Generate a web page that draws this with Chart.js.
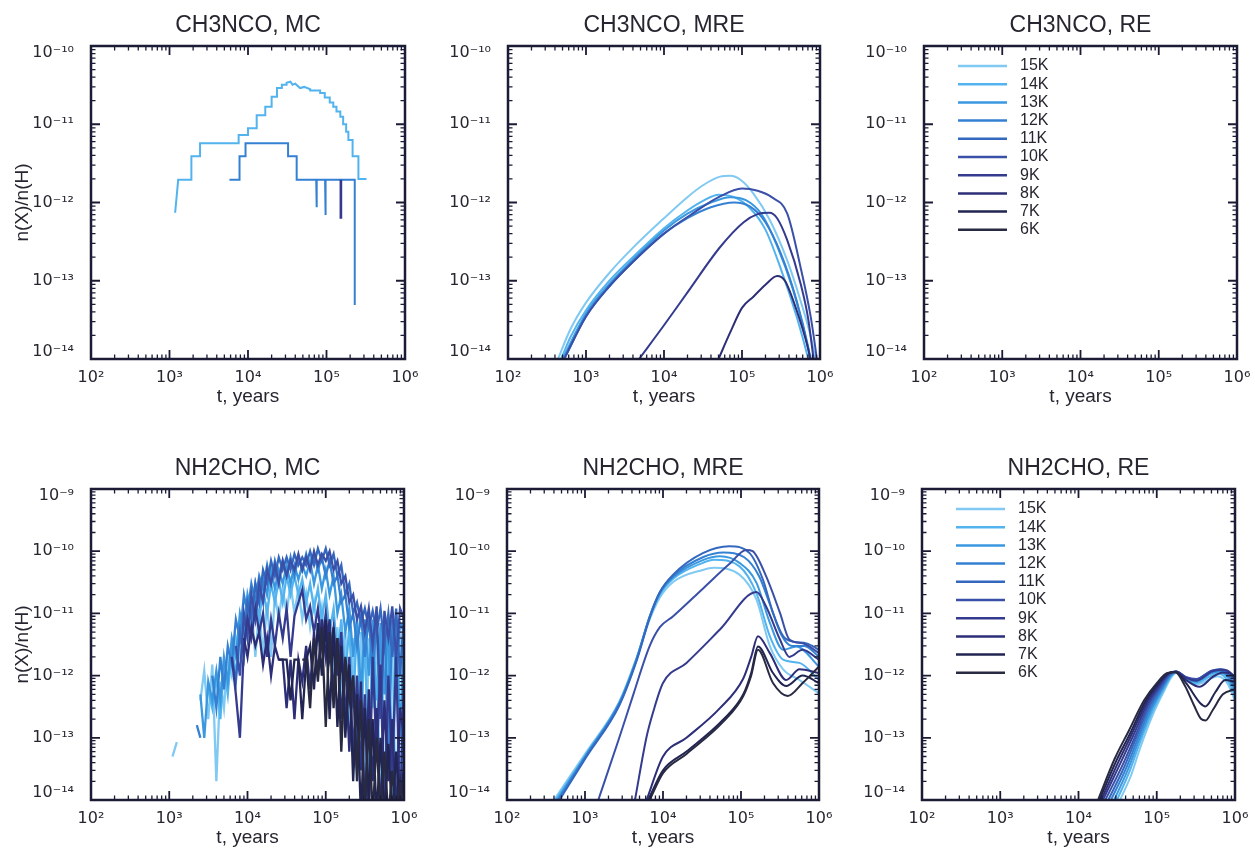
<!DOCTYPE html>
<html><head><meta charset="utf-8">
<script src="https://cdn.jsdelivr.net/npm/chart.js@4.4.1/dist/chart.umd.min.js"></script>
<style>
html,body{margin:0;padding:0;background:#fff;width:1255px;height:855px;overflow:hidden;position:relative}
canvas{position:absolute}
</style></head><body>
<canvas id="c1"></canvas><canvas id="c2"></canvas><canvas id="c3"></canvas>
<canvas id="c4"></canvas><canvas id="c5"></canvas><canvas id="c6"></canvas>
<script>
// ---------- tick labels ----------
const xTicks = [1e2, 1e3, 1e4, 1e5, 1e6];
const xTickLabels = ['10²', '10³', '10⁴', '10⁵', '10⁶'];
const yTicksTop = [1e-14, 1e-13, 1e-12, 1e-11, 1e-10];
const yTickLabelsTop = ['10⁻¹⁴', '10⁻¹³', '10⁻¹²', '10⁻¹¹', '10⁻¹⁰'];
const yTicksBottom = [1e-14, 1e-13, 1e-12, 1e-11, 1e-10, 1e-9];
const yTickLabelsBottom = ['10⁻¹⁴', '10⁻¹³', '10⁻¹²', '10⁻¹¹', '10⁻¹⁰', '10⁻⁹'];

// ---------- series categories ----------
const tempLabels = ['15K', '14K', '13K', '12K', '11K', '10K', '9K', '8K', '7K', '6K'];
const tempColors = ['#7fc9f2', '#52b3ee', '#3a98e0', '#3480d2', '#3468bf', '#3a50a8', '#343b8f', '#2d2e78', '#222452', '#282a42'];

// ---------- CH3NCO, MC  [t, n(X)/n(H)] ----------
const ch3ncoMC_14K = [[1180,7.4e-13],[1290,1.95e-12],[1900,1.95e-12],[1900,3.9e-12],[2450,3.9e-12],[2450,5.7e-12],[7600,5.7e-12],[7600,7.3e-12],[10000,7.3e-12],[10000,8.9e-12],[12900,8.9e-12],[12900,1.3e-11],[16600,1.3e-11],[16600,1.67e-11],[20000,1.67e-11],[20000,2.25e-11],[23400,2.25e-11],[23400,2.9e-11],[27000,2.9e-11],[27000,3.2e-11],[31000,3.2e-11],[31000,3.4e-11],[34700,3.5e-11],[37000,3.2e-11],[40000,3.3e-11],[46000,2.9e-11],[52000,3e-11],[62000,2.8e-11],[62000,2.7e-11],[83000,2.7e-11],[83000,2.5e-11],[95000,2.5e-11],[95000,2.2e-11],[110000,2.2e-11],[110000,1.9e-11],[122000,1.9e-11],[122000,1.67e-11],[134000,1.67e-11],[134000,1.45e-11],[150000,1.45e-11],[150000,1.25e-11],[163000,1.25e-11],[163000,1e-11],[178000,1e-11],[178000,8e-12],[190000,8e-12],[190000,6.3e-12],[215000,6.3e-12],[215000,3.9e-12],[255000,3.9e-12],[255000,2e-12],[323000,2e-12]];
const ch3ncoMC_12K = [[5800,1.95e-12],[7800,1.95e-12],[7800,3.9e-12],[9300,3.9e-12],[9300,5.7e-12],[32400,5.7e-12],[32400,3.9e-12],[41700,3.9e-12],[41700,1.95e-12],[74000,1.95e-12],[74000,8.7e-13],[75500,8.7e-13],[75500,1.95e-12],[96000,1.95e-12],[96000,6.9e-13],[98000,6.9e-13],[98000,1.95e-12],[229000,1.95e-12],[229000,4.9e-14]];
const ch3ncoMC_9K = [[151000,1.95e-12],[151000,6.4e-13],[154000,6.4e-13],[154000,1.95e-12]];

// ---------- CH3NCO, MRE ----------
const ch3ncoMRE_15K = [[437,1e-14],[631,2.4e-14],[1000,5.25e-14],[1995,1.26e-13],[3981,2.63e-13],[10000,6.3e-13],[19950,1.17e-12],[31620,1.66e-12],[52480,2.14e-12],[70800,2.19e-12],[95500,1.95e-12],[141000,1.29e-12],[229000,5.9e-13],[380000,1.82e-13],[562000,5.6e-14],[759000,1.95e-14],[871000,1e-14],[1000000,4e-15]];
const ch3ncoMRE_14K = [[479,1e-14],[631,1.9e-14],[1000,4.2e-14],[1995,1e-13],[3981,2e-13],[10000,4.7e-13],[19950,7.9e-13],[31620,1.05e-12],[50120,1.26e-12],[79430,1.17e-12],[125900,8.5e-13],[199500,4.5e-13],[316200,1.4e-13],[501200,3.5e-14],[707900,1e-14],[831800,5e-15]];
const ch3ncoMRE_13K = [[501,1e-14],[1000,3.8e-14],[1995,9.1e-14],[3981,1.86e-13],[10000,4.4e-13],[19950,7.2e-13],[39810,1e-12],[70790,1.17e-12],[112200,1.07e-12],[177800,7.1e-13],[281800,2.8e-13],[446700,7.9e-14],[631000,2.2e-14],[794300,7.9e-15]];
const ch3ncoMRE_12K = [[525,1e-14],[1000,3.5e-14],[1995,8.5e-14],[3981,1.74e-13],[10000,4e-13],[19950,6.3e-13],[39810,8.7e-13],[79430,1e-12],[125900,8.9e-13],[199500,5.6e-13],[316200,2.2e-13],[501200,5.6e-14],[707900,1.4e-14],[851100,5e-15]];
const ch3ncoMRE_10K = [[525,1e-14],[1000,3.5e-14],[1995,8.5e-14],[3981,1.74e-13],[10000,4e-13],[25120,7.6e-13],[50120,1.17e-12],[100000,1.51e-12],[158500,1.41e-12],[239900,1.17e-12],[380200,7.2e-13],[562300,1.5e-13],[758600,3.5e-14],[912000,1e-14],[1000000,5e-15]];
const ch3ncoMRE_9K = [[4790,1e-14],[10000,2.7e-14],[20000,7.1e-14],[52500,2.7e-13],[105000,5.6e-13],[158000,7.1e-13],[224000,7.4e-13],[282000,6.3e-13],[380000,3.3e-13],[562000,9.3e-14],[708000,3.2e-14],[851000,7.9e-15]];
const ch3ncoMRE_8K = [[50000,1e-14],[70800,2.2e-14],[100000,4.5e-14],[141000,6.3e-14],[200000,8.9e-14],[282000,1.15e-13],[355000,1e-13],[501000,4.2e-14],[692000,1.45e-14],[832000,6.3e-15]];

// ---------- NH2CHO, MC (shared time grid) ----------
const nh2choMC_t = [1100,1250,1400,1600,1800,2000,2250,2500,2800,3150,
 3550,4000,4500,5000,5600,6300,7100,8000,9000,10000,
 11200,12600,14100,15800,17800,20000,22400,25100,28200,31600,
 35500,39800,44700,50100,56200,63100,70800,79400,89100,100000,
 112000,126000,141000,158000,178000,200000,224000,251000,282000,316000,
 355000,398000,447000,501000,562000,631000,708000,794000,891000,1000000];
const nh2choMC_15K = [5e-14,8.5e-14,null,null,null,null,null,4e-13,1.2e-12,2e-13,
 1.5e-12,2e-14,8e-13,3e-13,2e-12,1e-12,4e-12,2e-12,8e-12,4e-12,
 1.5e-11,2e-12,1.2e-11,2e-12,1.5e-11,2e-12,2e-11,8e-12,2.5e-11,1e-11,
 3e-11,1e-11,2.5e-11,8e-12,2e-11,6e-12,1.5e-11,4e-12,1.2e-11,2e-12,
 8e-12,1e-12,6e-12,4e-13,5e-12,1e-13,4e-12,2e-14,5e-12,5e-15,
 4e-12,3e-13,5e-12,5e-15,4e-12,1e-13,3e-12,5e-15,4e-12,2e-12];
const nh2choMC_14K = [null,null,null,null,null,null,null,null,null,6e-13,
 3e-13,1e-12,2e-13,1.5e-12,5e-13,3e-12,1e-12,6e-12,3e-12,1.5e-11,
 5e-12,2e-11,8e-12,2.5e-11,1e-11,3e-11,1.5e-11,3.5e-11,1.5e-11,4e-11,
 2e-11,4e-11,2e-11,3.5e-11,1.5e-11,3e-11,1.2e-11,2.5e-11,8e-12,2e-11,
 5e-12,1.2e-11,2e-12,8e-12,1e-12,6e-12,3e-13,7e-12,1e-13,6e-12,
 1e-14,7e-12,4e-13,6e-12,5e-15,7e-12,3e-14,6e-12,5e-15,5e-12];
const nh2choMC_13K = [null,null,null,null,null,null,null,5e-13,1e-13,8e-13,
 4e-13,1.2e-12,4e-13,2e-12,8e-13,4e-12,2e-12,1e-11,5e-12,2e-11,
 1e-11,3e-11,1.5e-11,4e-11,2e-11,5e-11,2.5e-11,5e-11,3e-11,6e-11,
 3e-11,6e-11,3.5e-11,6e-11,4e-11,7e-11,3e-11,6e-11,2.5e-11,5e-11,
 2e-11,4e-11,1e-11,2e-11,5e-12,1.2e-11,2e-12,8e-12,5e-13,8e-12,
 1e-12,8e-12,5e-14,7e-12,5e-13,8e-12,5e-15,7e-12,1e-13,6e-12];
const nh2choMC_12K = [null,null,null,null,null,null,1.6e-13,1e-13,null,null,
 1e-12,3e-13,2e-12,6e-13,3e-12,1.5e-12,8e-12,4e-12,2e-11,1e-11,
 3e-11,1.5e-11,4e-11,2.5e-11,6e-11,3e-11,7e-11,4e-11,7e-11,4e-11,
 8e-11,4e-11,8e-11,5e-11,9e-11,5e-11,9e-11,5e-11,8e-11,4e-11,
 7e-11,3e-11,4e-11,1.5e-11,2e-11,6e-12,1e-11,3e-12,9e-12,2e-12,
 9e-12,1e-12,8e-12,2e-13,9e-12,5e-14,8e-12,1e-12,7e-12,5e-12];
const nh2choMC_11K = [null,null,null,null,null,null,null,null,null,null,
 null,null,null,null,null,2e-12,8e-13,5e-12,2e-12,1.5e-11,
 8e-12,3e-11,1.5e-11,5e-11,3e-11,7e-11,4e-11,8e-11,5e-11,8e-11,
 5e-11,9e-11,6e-11,8e-11,6e-11,1e-10,6e-11,1.1e-10,7e-11,1.1e-10,
 6e-11,9e-11,4e-11,6e-11,2e-11,3e-11,1e-11,1.5e-11,7e-12,1.2e-11,
 6e-12,1.1e-11,5e-12,1.2e-11,3e-12,1e-11,2e-12,1.2e-11,1e-12,1e-11];
const nh2choMC_10K = [null,null,null,null,null,null,null,null,null,null,
 null,null,null,null,null,null,3e-12,1e-12,1e-11,4e-12,
 2e-11,8e-12,3e-11,1.5e-11,5e-11,3e-11,6e-11,3e-11,7e-11,4e-11,
 7e-11,5e-11,9e-11,5e-11,8e-11,5e-11,1e-10,6e-11,9e-11,7e-11,
 1e-10,5e-11,7e-11,3e-11,4e-11,1.5e-11,2e-11,8e-12,1.3e-11,5e-12,
 1.2e-11,3e-12,1.3e-11,2e-13,1.1e-11,4e-12,1.3e-11,2e-12,1.2e-11,8e-12];
const nh2choMC_9K = [null,null,null,null,null,null,null,null,null,null,
 null,null,null,null,null,2e-12,5e-13,1e-13,3e-12,8e-12,
 4e-12,1.2e-11,5e-12,1e-11,2e-12,8e-12,3e-12,1e-11,4e-12,1.2e-11,
 2e-12,9e-12,1.5e-11,2.4e-11,8e-12,1.3e-11,5e-12,1.2e-11,3e-12,1e-11,
 2e-12,6e-12,1e-12,5e-12,2e-13,2e-12,5e-14,1e-12,3e-14,5e-13,
 5e-15,2e-12,5e-14,1.5e-12,5e-15,1e-12,3e-14,2e-12,5e-15,1e-12];
const nh2choMC_8K = [null,null,null,null,null,null,null,null,null,null,
 null,null,null,null,null,null,null,null,4e-12,2e-12,
 6e-12,3e-12,5e-12,1.5e-12,4e-12,1e-12,3e-12,1.8e-12,1.8e-12,3e-13,
 1.8e-12,2e-13,1.8e-12,8e-13,3e-12,6e-13,5e-12,1e-12,8e-12,2e-12,
 8e-12,5e-13,4e-12,2e-13,1.8e-12,6e-14,1e-12,3e-14,8e-13,5e-15,
 6e-13,2e-14,3e-13,5e-15,4e-13,2e-14,2e-13,5e-15,3e-13,1e-13];
const nh2choMC_7K = [null,null,null,null,null,null,null,null,null,null,
 null,null,null,null,null,null,null,null,null,null,
 null,null,null,null,null,null,null,1.8e-12,1.8e-12,1.8e-12,
 4e-13,1.8e-12,1.8e-12,2e-13,1.8e-12,3e-12,6e-13,7e-12,1e-12,8e-12,
 2e-13,6e-12,1.5e-13,3e-12,1e-13,1.5e-12,2e-14,5e-13,5e-15,3e-13,
 1e-14,2e-13,5e-15,1e-13,5e-15,8e-14,5e-15,6e-14,5e-15,4e-14];
const nh2choMC_6K = [null,null,null,null,null,null,null,null,null,null,
 null,null,null,null,null,null,null,null,null,null,
 null,null,null,null,null,null,null,null,null,null,
 null,null,null,1.8e-12,1.8e-12,3e-13,4e-12,8e-13,6e-12,1.5e-13,
 5e-12,3e-13,4e-12,6e-14,2e-12,4e-13,1e-12,2e-14,4e-13,5e-15,
 2e-13,5e-15,1e-13,5e-15,6e-14,5e-15,3e-14,5e-15,2e-14,5e-15];

// ---------- NH2CHO, MRE ----------
const nh2choMRE_15K = [[400,1e-14],[1050,6e-14],[2750,3.8e-13],[4570,1.9e-12],[6760,8e-12],[9120,1.8e-11],[13500,3.2e-11],[32400,5e-11],[44700,5.4e-11],[95500,4.2e-11],[158000,1.66e-11],[234000,3e-12],[347000,1.26e-12],[562000,8.5e-13],[1000000,5.2e-13]];
const nh2choMRE_14K = [[420,1e-14],[1050,5.6e-14],[2750,3.7e-13],[4570,1.9e-12],[6760,8.7e-12],[9120,2e-11],[13500,3.6e-11],[32400,6.5e-11],[44700,7.3e-11],[95500,5.7e-11],[158000,2.1e-11],[234000,4.3e-12],[347000,1.8e-12],[562000,1.6e-12],[1000000,8.5e-13]];
const nh2choMRE_13K = [[440,1e-14],[1050,5.5e-14],[2750,3.6e-13],[4570,1.8e-12],[6760,8.9e-12],[9120,2.1e-11],[13500,3.8e-11],[32400,7.2e-11],[53700,8.3e-11],[95500,6.5e-11],[158000,3.1e-11],[234000,7.1e-12],[347000,2.6e-12],[513000,2.95e-12],[1000000,1.4e-12]];
const nh2choMRE_12K = [[450,1e-14],[1050,5.3e-14],[2750,3.5e-13],[4570,1.8e-12],[6760,9e-12],[9120,2.2e-11],[13500,4e-11],[32400,8e-11],[60000,9.5e-11],[110000,8e-11],[170000,4e-11],[240000,1.3e-11],[330000,4.5e-12],[450000,3e-12],[650000,3e-12],[1000000,2e-12]];
const nh2choMRE_11K = [[470,1e-14],[1050,5e-14],[2750,3.3e-13],[4570,1.7e-12],[6760,8.5e-12],[9120,2.2e-11],[13500,4.2e-11],[32400,9.3e-11],[70800,1.2e-10],[129000,9.3e-11],[191000,3.5e-11],[257000,1.02e-11],[347000,4.3e-12],[468000,3.5e-12],[692000,3.3e-12],[1000000,2.6e-12]];
const nh2choMRE_10K = [[1480,1e-14],[2750,1e-13],[4170,5e-13],[6760,3e-12],[9120,6e-12],[13500,9e-12],[32400,2.5e-11],[70800,6.2e-11],[117000,1.05e-10],[141000,1e-10],[209000,4e-11],[316000,1.02e-11],[417000,3.8e-12],[617000,3.3e-12],[1000000,2.3e-12]];
const nh2choMRE_9K = [[4370,1e-14],[6170,1.05e-13],[7410,2.5e-13],[10000,7.6e-13],[20000,1.6e-12],[53700,5.5e-12],[158000,2.2e-11],[209000,1.3e-11],[316000,3.8e-12],[417000,2e-12],[617000,2.6e-12],[1000000,1.8e-12]];
const nh2choMRE_8K = [[6170,1e-14],[10000,5e-14],[20000,1e-13],[53700,3e-13],[107000,9e-13],[135000,2e-12],[165000,4.3e-12],[234000,2.3e-12],[380000,8.5e-13],[562000,1.26e-12],[1000000,1.1e-12]];
const nh2choMRE_7K = [[6460,1e-14],[10000,3e-14],[20000,6e-14],[58900,1.95e-13],[107000,5e-13],[135000,1.1e-12],[165000,2.95e-12],[257000,1.1e-12],[380000,6.8e-13],[617000,1e-12],[1000000,7.6e-13]];
const nh2choMRE_6K = [[6760,1e-14],[10000,2.7e-14],[20000,5.5e-14],[58900,1.8e-13],[107000,4.7e-13],[135000,1e-12],[165000,2.6e-12],[257000,7.6e-13],[398000,4.7e-13],[617000,7.6e-13],[1000000,1.4e-12]];

// ---------- NH2CHO, RE ----------
const nh2choRE_15K = [[33900,1e-14],[47000,2.5e-14],[61700,7e-14],[87000,2.2e-13],[120000,5.2e-13],[155000,9.5e-13],[182000,1.12e-12],[240000,8.3e-13],[320000,7.2e-13],[450000,8.5e-13],[600000,9.8e-13],[800000,7.5e-13],[1000000,4e-13]];
const nh2choRE_14K = [[31000,1e-14],[44000,2.7e-14],[60000,8e-14],[85000,2.4e-13],[118000,5.5e-13],[153000,9.8e-13],[180000,1.13e-12],[240000,8.6e-13],[320000,7.6e-13],[460000,9.5e-13],[610000,1.08e-12],[800000,8.5e-13],[1000000,4.8e-13]];
const nh2choRE_13K = [[28500,1e-14],[42000,2.9e-14],[58000,8.5e-14],[83000,2.6e-13],[116000,5.8e-13],[151000,1e-12],[179000,1.14e-12],[240000,8.9e-13],[320000,8e-13],[470000,1.05e-12],[620000,1.15e-12],[800000,9.5e-13],[1000000,5.6e-13]];
const nh2choRE_12K = [[26000,1e-14],[40000,3.1e-14],[56000,9e-14],[81000,2.8e-13],[114000,6e-13],[149000,1.02e-12],[178000,1.15e-12],[240000,9.1e-13],[320000,8.4e-13],[480000,1.12e-12],[630000,1.2e-12],[800000,1.05e-12],[1000000,6.5e-13]];
const nh2choRE_11K = [[24000,1e-14],[38000,3.3e-14],[54000,9.6e-14],[79000,3e-13],[112000,6.3e-13],[147000,1.04e-12],[177000,1.16e-12],[240000,9.3e-13],[320000,8.7e-13],[490000,1.18e-12],[640000,1.25e-12],[800000,1.15e-12],[1000000,8e-13]];
const nh2choRE_10K = [[22000,1e-14],[36000,3.5e-14],[52000,1e-13],[77000,3.2e-13],[110000,6.6e-13],[145000,1.06e-12],[176000,1.16e-12],[240000,9.4e-13],[320000,8.8e-13],[500000,1.2e-12],[650000,1.27e-12],[800000,1.2e-12],[1000000,9e-13]];
const nh2choRE_9K = [[20500,1e-14],[34000,3.8e-14],[50000,1.08e-13],[75000,3.4e-13],[108000,6.9e-13],[143000,1.07e-12],[175000,1.16e-12],[240000,9.2e-13],[320000,8.3e-13],[510000,1.17e-12],[660000,1.24e-12],[820000,1.18e-12],[1000000,9.5e-13]];
const nh2choRE_8K = [[19500,1e-14],[32000,4e-14],[48000,1.15e-13],[73000,3.6e-13],[106000,7.2e-13],[141000,1.08e-12],[174000,1.15e-12],[240000,8.4e-13],[350000,6.6e-13],[520000,9.5e-13],[700000,1.12e-12],[850000,1.1e-12],[1000000,9.5e-13]];
const nh2choRE_7K = [[18500,1e-14],[30500,4.3e-14],[46000,1.2e-13],[71000,3.8e-13],[104000,7.5e-13],[139000,1.09e-12],[173000,1.14e-12],[240000,7.4e-13],[360000,3.6e-13],[420000,3.2e-13],[560000,5.4e-13],[750000,8.5e-13],[1000000,8e-13]];
const nh2choRE_6K = [[17800,1e-14],[29000,4.6e-14],[44000,1.3e-13],[69000,4e-13],[102000,7.8e-13],[137000,1.1e-12],[172000,1.13e-12],[230000,6.8e-13],[300000,3.3e-13],[370000,2e-13],[420000,1.9e-13],[520000,2.8e-13],[700000,5e-13],[1000000,6e-13]];

// ---------- styling / helpers ----------
const FONT = "'Liberation Sans', Arial, Helvetica, sans-serif";
const TICKFONT = "'DejaVu Sans', 'Liberation Sans', sans-serif";
const INK = '#262630';
const FRAME = '#1b1b36';

function colorOf(label){ return tempColors[tempLabels.indexOf(label)]; }
function pairs(arr){ return arr.map(p => ({x: p[0], y: p[1]})); }
function series(label, data, extra){
  const c = colorOf(label);
  return Object.assign({label, data, borderColor: c, backgroundColor: c, borderWidth: 2,
    pointRadius: 0, pointHoverRadius: 0, fill: false, tension: 0, spanGaps: false,
    order: 10 - tempLabels.indexOf(label)}, extra || {});
}
const smooth = {cubicInterpolationMode: 'monotone'};

// end labels of the y axis sit just inside the frame (as in the original figure)
function yLabel(labels){
  return (v, i) => i === 0 ? [labels[i], ''] : (i === labels.length - 1 ? ['', labels[i]] : labels[i]);
}

const framePlugin = {
  id: 'frameTicks',
  afterDatasetsDraw(chart){
    const {ctx, chartArea: a, scales} = chart;
    ctx.save();
    ctx.strokeStyle = FRAME;
    const marks = (scale, horiz) => {
      const lo = Math.floor(Math.log10(scale.min) + 1e-9), hi = Math.round(Math.log10(scale.max));
      for (let e = lo; e <= hi; e++) for (let k = 1; k <= 9; k++) {
        const v = k * Math.pow(10, e);
        if (v < scale.min * 0.999 || v > scale.max * 1.001) continue;
        const p = scale.getPixelForValue(v);
        const len = k === 1 ? 9 : 4.5;
        ctx.lineWidth = k === 1 ? 1.8 : 1.3;
        ctx.beginPath();
        if (horiz) { ctx.moveTo(p, a.bottom); ctx.lineTo(p, a.bottom - len); ctx.moveTo(p, a.top); ctx.lineTo(p, a.top + len); }
        else { ctx.moveTo(a.left, p); ctx.lineTo(a.left + len, p); ctx.moveTo(a.right, p); ctx.lineTo(a.right - len, p); }
        ctx.stroke();
      }
    };
    marks(scales.x, true); marks(scales.y, false);
    ctx.lineWidth = 2.5;
    ctx.strokeRect(a.left, a.top, a.right - a.left, a.bottom - a.top);
    ctx.restore();
  }
};
const legendPlugin = {
  id: 'tempLegend',
  afterDraw(chart, args, opts){
    if (!opts || !opts.show) return;
    const {ctx, chartArea: a} = chart;
    ctx.save();
    ctx.font = '16px ' + FONT; ctx.textBaseline = 'middle'; ctx.textAlign = 'left';
    chart.data.datasets.forEach((ds, i) => {
      const y = a.top + 20 + i * 18.2;
      ctx.strokeStyle = ds.borderColor; ctx.lineWidth = 2.5;
      ctx.beginPath(); ctx.moveTo(a.left + 34, y); ctx.lineTo(a.left + 83, y); ctx.stroke();
      ctx.fillStyle = INK; ctx.fillText(ds.label, a.left + 96, y);
    });
    ctx.restore();
  }
};

function makePanel(id, box, title, yTicks, yLabels, datasets, flags){
  const cv = document.getElementById(id);
  cv.width = box.w + 90 + 25; cv.height = box.h + 46 + 60;
  cv.style.left = (box.l - 90) + 'px'; cv.style.top = (box.t - 46) + 'px';
  return new Chart(cv, {
    type: 'line',
    data: {datasets},
    plugins: [framePlugin, legendPlugin],
    options: {
      responsive: false, animation: false, devicePixelRatio: 1, events: [],
      layout: {padding: {left: 0, right: 25, top: 0, bottom: 0}},
      plugins: {
        legend: {display: false}, tooltip: {enabled: false},
        title: {display: true, text: title, fullSize: false, color: INK,
                font: {family: FONT, size: 23, weight: 'normal', lineHeight: 1.2}, padding: {top: 12, bottom: 6.4}},
        tempLegend: {show: !!flags.legend}
      },
      scales: {
        x: {type: 'logarithmic', min: xTicks[0], max: xTicks[xTicks.length - 1],
            grid: {display: false}, border: {display: false},
            afterBuildTicks: s => { s.ticks = xTicks.map(v => ({value: v})); },
            ticks: {autoSkip: false, maxRotation: 0, padding: 1, color: INK,
                    font: {family: TICKFONT, size: 16}, callback: (v, i) => xTickLabels[i]},
            title: {display: true, text: 't, years', color: INK,
                    font: {family: FONT, size: 19, lineHeight: 1.2}, padding: {top: 0, bottom: 11}},
            afterFit: s => { s.height = 60; }},
        y: {type: 'logarithmic', position: 'left', min: yTicks[0], max: yTicks[yTicks.length - 1],
            grid: {display: false}, border: {display: false},
            afterBuildTicks: s => { s.ticks = yTicks.map(v => ({value: v})); },
            ticks: {autoSkip: false, padding: 9, color: INK,
                    font: {family: TICKFONT, size: 16, lineHeight: 0.85}, callback: yLabel(yLabels)},
            title: {display: !!flags.yTitle, text: 'n(X)/n(H)', color: INK,
                    font: {family: FONT, size: 19, lineHeight: 1.2}, padding: {top: 10.6, bottom: 0}},
            afterFit: s => { s.width = 90; }}
      }
    }
  });
}

// ---------- panels ----------
makePanel('c1', {l: 91, t: 46, w: 314, h: 313}, 'CH3NCO, MC', yTicksTop, yTickLabelsTop, [
  series('14K', pairs(ch3ncoMC_14K)),
  series('12K', pairs(ch3ncoMC_12K)),
  series('9K', pairs(ch3ncoMC_9K))
], {yTitle: true});

makePanel('c2', {l: 508, t: 46, w: 312, h: 313}, 'CH3NCO, MRE', yTicksTop, yTickLabelsTop, [
  series('15K', pairs(ch3ncoMRE_15K), smooth),
  series('14K', pairs(ch3ncoMRE_14K), smooth),
  series('13K', pairs(ch3ncoMRE_13K), smooth),
  series('12K', pairs(ch3ncoMRE_12K), smooth),
  series('10K', pairs(ch3ncoMRE_10K), smooth),
  series('9K', pairs(ch3ncoMRE_9K), smooth),
  series('8K', pairs(ch3ncoMRE_8K), smooth)
], {});

makePanel('c3', {l: 924, t: 46, w: 313, h: 313}, 'CH3NCO, RE', yTicksTop, yTickLabelsTop,
  tempLabels.map(lb => series(lb, [])), {legend: true});

const mcSeries = [nh2choMC_15K, nh2choMC_14K, nh2choMC_13K, nh2choMC_12K, nh2choMC_11K,
                  nh2choMC_10K, nh2choMC_9K, nh2choMC_8K, nh2choMC_7K, nh2choMC_6K];
makePanel('c4', {l: 91, t: 489, w: 313, h: 311}, 'NH2CHO, MC', yTicksBottom, yTickLabelsBottom,
  tempLabels.map((lb, k) => series(lb, nh2choMC_t.map((t, i) => ({x: t, y: mcSeries[k][i]})), {borderWidth: 2.3})),
  {yTitle: true});

const mreSeries = [nh2choMRE_15K, nh2choMRE_14K, nh2choMRE_13K, nh2choMRE_12K, nh2choMRE_11K,
                   nh2choMRE_10K, nh2choMRE_9K, nh2choMRE_8K, nh2choMRE_7K, nh2choMRE_6K];
makePanel('c5', {l: 507, t: 489, w: 312, h: 311}, 'NH2CHO, MRE', yTicksBottom, yTickLabelsBottom,
  tempLabels.map((lb, k) => series(lb, pairs(mreSeries[k]), smooth)), {});

const reSeries = [nh2choRE_15K, nh2choRE_14K, nh2choRE_13K, nh2choRE_12K, nh2choRE_11K,
                  nh2choRE_10K, nh2choRE_9K, nh2choRE_8K, nh2choRE_7K, nh2choRE_6K];
makePanel('c6', {l: 922, t: 489, w: 313, h: 311}, 'NH2CHO, RE', yTicksBottom, yTickLabelsBottom,
  tempLabels.map((lb, k) => series(lb, pairs(reSeries[k]), smooth)), {legend: true});
</script>
</body></html>
